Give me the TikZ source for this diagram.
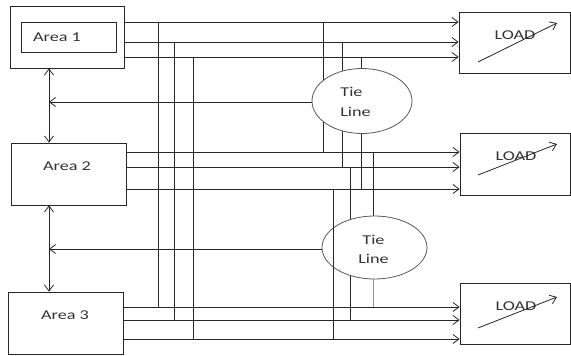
\documentclass[tikz,border=0pt]{standalone}
\usepackage{fontspec}
\setmainfont{Carlito}
\usepackage{graphicx}
\usetikzlibrary{arrows.meta,shapes.geometric}
\newcommand{\wtxt}[1]{\scalebox{1.35}[1]{#1}}
\pgfdeclarelayer{bg}
\pgfsetlayers{bg,main}
\definecolor{txt}{HTML}{333333}
\definecolor{lncol}{HTML}{262626}
\definecolor{tiecol}{HTML}{5A5A5A}
\definecolor{bluish}{HTML}{6E9CC4}
\begin{document}
\begin{tikzpicture}[x=1pt,y=-1pt,
  ln/.style={draw=lncol, line width=0.8pt},
  arr/.style={-{Straight Barb[length=6pt,width=9pt]}},
  darr/.style={{Straight Barb[length=6pt,width=9pt]}-{Straight Barb[length=6pt,width=9pt]}},
  box/.style={draw=lncol, line width=0.8pt, rectangle, inner sep=0pt},
  tie/.style={draw=tiecol, line width=0.8pt, ellipse, fill=white, inner sep=0pt},
  lbl/.style={text=txt, inner sep=0pt, font=\fontsize{13.5}{15}\selectfont}]
\useasboundingbox (0,0) rectangle (571,356);

% area boxes
\node[box, minimum width=114pt, minimum height=62pt] (a1) at (67,37) {};
\node[box, minimum width=95pt, minimum height=30pt] (a1i) at (68.5,37) {};
\node[lbl] (a1t) at (57,37) {\wtxt{Area 1}};
\node[box, minimum width=115pt, minimum height=62pt] (a2) at (68.5,174) {};
\node[lbl] (a2t) at (67,166) {\wtxt{Area 2}};
\node[box, minimum width=115pt, minimum height=62pt] (a3) at (65.5,323) {};
\node[lbl] (a3t) at (65,315) {\wtxt{Area 3}};

% load boxes
\node[box, minimum width=111pt, minimum height=61pt] (l1) at (514.5,42.5) {};
\node[box, minimum width=110pt, minimum height=62pt] (l2) at (515,164) {};
\node[box, minimum width=110pt, minimum height=61pt] (l3) at (515,313.5) {};
\node[lbl] (l1t) at (515,35) {\wtxt{LOAD}};
\node[lbl] (l2t) at (516,156) {\wtxt{LOAD}};
\node[lbl] (l3t) at (516,306) {\wtxt{LOAD}};
\coordinate (l1a) at (478,62); \coordinate (l1b) at (557,23);
\coordinate (l2a) at (478,175); \coordinate (l2b) at (557,144);
\coordinate (l3a) at (478,328); \coordinate (l3b) at (557,297);
\draw[ln,arr] (l1a) -- (l1b);
\draw[ln,arr] (l2a) -- (l2b);
\draw[ln,arr] (l3a) -- (l3b);

% tie line ellipses
\node[tie, minimum width=100pt, minimum height=65pt] (t1) at (362,101) {};
\node[tie, minimum width=105pt, minimum height=63pt] (t2) at (374.5,247.5) {};
\node[lbl] (t1a) at (351.5,92) {\wtxt{Tie}};
\node[lbl] (t1b) at (355.5,112) {\wtxt{Line}};
\node[lbl] (t2a) at (373.5,240) {\wtxt{Tie}};
\node[lbl] (t2b) at (373.5,259) {\wtxt{Line}};

% feeders to loads
\draw[ln,arr] (a1.east |- 0,22) -- (l1.west |- 0,22);
\draw[ln,arr] (a1.east |- 0,42) -- (l1.west |- 0,42);
\draw[ln,arr] (a1.east |- 0,57) -- (l1.west |- 0,57);
\draw[ln,arr] (a2.east |- 0,152) -- (l2.west |- 0,152);
\draw[ln,arr] (a2.east |- 0,167) -- (l2.west |- 0,167);
\draw[ln,arr] (a2.east |- 0,189) -- (l2.west |- 0,189);
\draw[ln,arr] (a3.east |- 0,307) -- (l3.west |- 0,307);
\draw[ln,arr] (a3.east |- 0,320) -- (l3.west |- 0,320);
\draw[ln,arr] (a3.east |- 0,339) -- (l3.west |- 0,339);

% long verticals area 1 -> area 3
\draw[ln] (158,22) -- (158,307);
\draw[ln] (174,42) -- (174,320);
\draw[ln] (193,57) -- (193,339);

% verticals through tie lines (behind ellipses)
\begin{pgfonlayer}{bg}
\draw[ln] (323.5,22) -- (323.5,152);
\draw[ln] (342,42) -- (342,167);
\draw[ln] (361,57) -- (361,189);
\draw[ln] (373,152) -- (t2.center -| 373,0);
\draw[draw=bluish, line width=0.8pt] (t2.center -| 373,0) -- (373,307);
\draw[ln] (350,167) -- (350,320);
\end{pgfonlayer}
\draw[ln] (333,189) -- (333,339);

% tie line returns and area interconnections
\coordinate (j1) at (49,102);
\coordinate (j2) at (49,249);
\draw[ln,arr] (t1.west |- 0,102) -- (j1);
\draw[ln,arr] (t2.west |- 0,249) -- (j2);
\draw[ln,darr] (a1.south -| 49,0) -- (a2.north -| 49,0);
\draw[ln,darr] (a2.south -| 49,0) -- (a3.north -| 49,0);
\end{tikzpicture}
\end{document}
